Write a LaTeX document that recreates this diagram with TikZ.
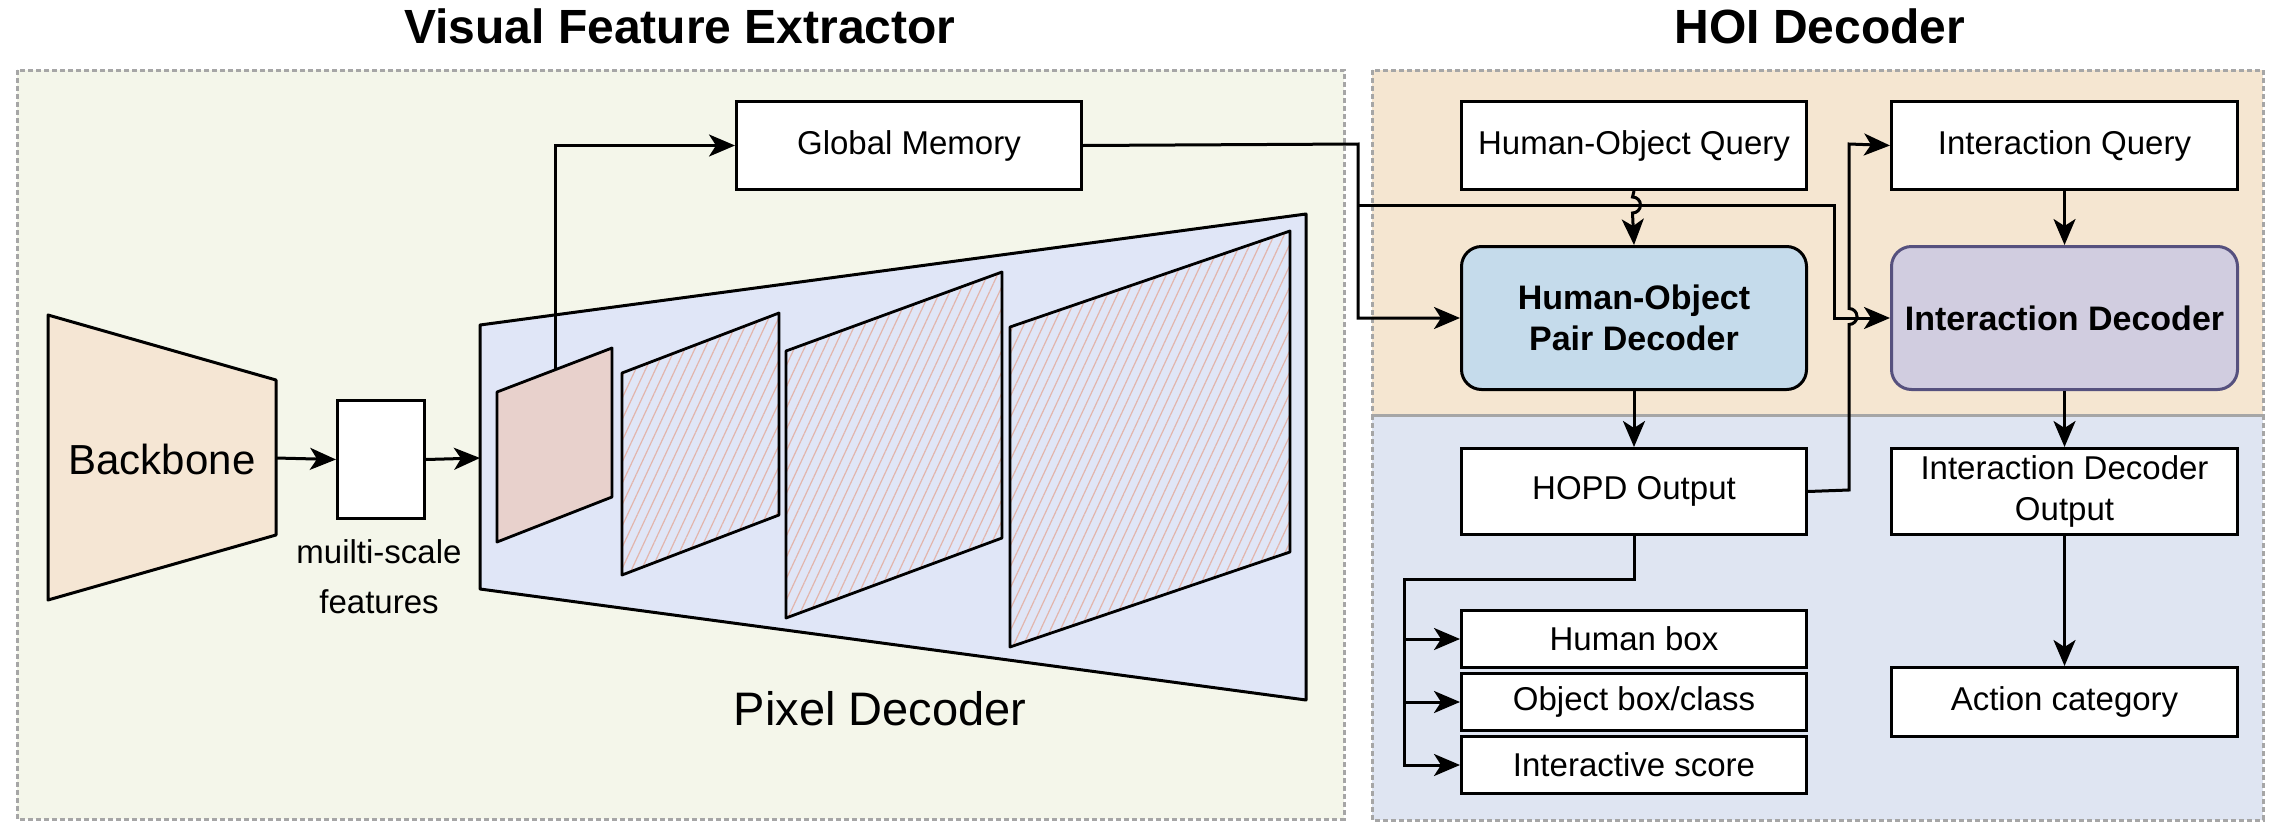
\documentclass[tikz,border=0pt]{standalone}
\usepackage{fontspec}
\setmainfont{Liberation Sans}
\usetikzlibrary{arrows.meta,patterns.meta}
\definecolor{leftbg}{HTML}{F4F6EA}
\definecolor{orangebg}{HTML}{F5E6D1}
\definecolor{bluebg}{HTML}{DFE5F2}
\definecolor{pixblue}{HTML}{E0E6F7}
\definecolor{bbfill}{HTML}{F5E6D4}
\definecolor{pinkmap}{HTML}{E8D1CC}
\definecolor{hopdfill}{HTML}{C5DBEB}
\definecolor{idfill}{HTML}{D1CDE0}
\definecolor{idborder}{HTML}{56517E}
\definecolor{framegray}{HTML}{A6A6A6}
\definecolor{hatchpink}{HTML}{E2B5AC}
\newcommand{\myTitleFont}{\fontsize{48}{56}\selectfont\bfseries}
\newcommand{\myNormFont}{\fontsize{33}{41}\selectfont}
\newcommand{\myBoldFont}{\fontsize{34}{41}\selectfont\bfseries}
\newcommand{\myBigFont}{\fontsize{42}{50}\selectfont}
\newcommand{\myPixFont}{\fontsize{47}{55}\selectfont}
\begin{document}
\begin{tikzpicture}[x=1pt,y=-1pt,
  frame/.style={draw=framegray, line width=3pt, dash pattern=on 5pt off 3pt},
  box/.style={draw=black, line width=3pt, fill=white, inner sep=0pt, font=\myNormFont, align=center},
  ln/.style={line width=3pt},
  arr/.style={line width=3pt, -{Stealth[length=26pt,width=22pt,inset=7pt]}},
  fmap/.style={draw=black, line width=2.8pt, line join=round, preaction={fill=pixblue}, pattern={Lines[angle=65,distance=9pt,line width=1.2pt]}, pattern color=hatchpink},
]
\useasboundingbox (0,0) rectangle (2278,838);
% frames
\fill[leftbg] (17,70) rectangle (1344,819);
\draw[frame] (17,70) rectangle (1344,819);
\fill[orangebg] (1372,70) rectangle (2263,415);
\fill[bluebg] (1372,415) rectangle (2263,820);
\draw[frame] (1372,415) rectangle (2263,820);
\draw[frame] (1372,70) rectangle (2263,415);
% titles
\node[font=\myTitleFont, anchor=base] (t1) at (680,43) {Visual Feature Extractor};
\node[font=\myTitleFont, anchor=base] (t2) at (1820,43) {HOI Decoder};
% backbone
\draw[line width=3pt, fill=bbfill, line join=round] (48,315) -- (276,380) -- (276,535) -- (48,600) -- cycle;
\node[font=\myBigFont, anchor=base] (bb) at (162,474) {Backbone};
\coordinate (bbR) at (276,458);
% multi-scale box
\node[box, minimum width=87pt, minimum height=118pt, anchor=north west] (ms) at (336,399) {};
\node[font=\myNormFont, anchor=base] (ms1) at (379,563) {muilti-scale};
\node[font=\myNormFont, anchor=base] (ms2) at (379,613) {features};
% pixel decoder
\draw[line width=3pt, fill=pixblue, line join=round] (480,325) -- (1306,214) -- (1306,700) -- (480,589) -- cycle;
\coordinate (pdL) at (480,458);
\node[font=\myPixFont, anchor=base] (pd) at (880,725) {Pixel Decoder};
% feature maps
\draw[line width=2.8pt, fill=pinkmap, line join=round] (497,392) -- (612,348) -- (612,497) -- (497,542) -- cycle;
\draw[fmap] (622,373) -- (779,313) -- (779,515) -- (622,575) -- cycle;
\draw[fmap] (786,351) -- (1002,272) -- (1002,538) -- (786,618) -- cycle;
\draw[fmap] (1010,327) -- (1290,231) -- (1290,552) -- (1010,647) -- cycle;
\coordinate (pinkTop) at (555,370);
% global memory
\node[box, minimum width=345pt, minimum height=88pt, anchor=north west] (gm) at (735,100) {Global Memory};
% HOI boxes
\node[box, minimum width=345pt, minimum height=88pt, anchor=north west] (hoq) at (1460,100) {Human-Object Query};
\node[box, minimum width=346pt, minimum height=88pt, anchor=north west] (iq) at (1890,100) {Interaction Query};
\node[box, fill=hopdfill, rounded corners=20pt, font=\myBoldFont, minimum width=345pt, minimum height=143pt, anchor=north west] (hopd) at (1460,245) {Human-Object\\Pair Decoder};
\node[box, draw=idborder, fill=idfill, rounded corners=20pt, font=\myBoldFont, minimum width=346pt, minimum height=143pt, anchor=north west] (id) at (1890,245) {Interaction Decoder};
\node[box, minimum width=345pt, minimum height=86pt, anchor=north west] (hopdo) at (1460,447) {HOPD Output};
\node[box, minimum width=346pt, minimum height=86pt, anchor=north west] (ido) at (1890,447) {Interaction Decoder\\Output};
\node[box, minimum width=345pt, minimum height=57pt, anchor=north west] (hb) at (1460,609) {Human box};
\node[box, minimum width=345pt, minimum height=57pt, anchor=north west] (ob) at (1460,672) {Object box/class};
\node[box, minimum width=345pt, minimum height=57pt, anchor=north west] (is) at (1460,735) {Interactive score};
\node[box, minimum width=346pt, minimum height=69pt, anchor=north west] (ac) at (1890,666) {Action category};
% connectors left
\draw[arr] (bbR) -- (ms.west);
\draw[arr] (ms.east) -- (pdL);
\draw[arr] (pinkTop) |- (gm.west);
% global memory to decoders
\coordinate (gmA) at (1358,144);
\coordinate (gmB) at (1358,205);
\coordinate (gmC) at (1834,205);
\draw[arr] (gm.east) -- (gmA) |- (hopd.west);
\draw[arr] (gmB) -- (gmC) |- (id.west);
% query to decoders
\draw[arr] (hoq.south) -- (1632.5,197) arc[start angle=90,end angle=-90,radius=8pt] -- (hopd.north);
\draw[arr] (iq.south) -- (id.north);
% decoders to outputs
\draw[arr] (hopd.south) -- (hopdo.north);
\draw[arr] (id.south) -- (ido.north);
\draw[arr] (ido.south) -- (ac.north);
% HOPD output to interaction query
\coordinate (hoA) at (1849,490);
\draw[arr] (hopdo.east) -- (hoA) -- (1849,324.5) arc[start angle=-90,end angle=90,radius=8pt] -- (1849,144) -- (iq.west);
% HOPD output to heads
\coordinate (br) at (1404,579);
\foreach \n in {hb,ob,is} \draw[arr] (hopdo.south) |- (br) |- (\n.west);
\end{tikzpicture}
\end{document}
